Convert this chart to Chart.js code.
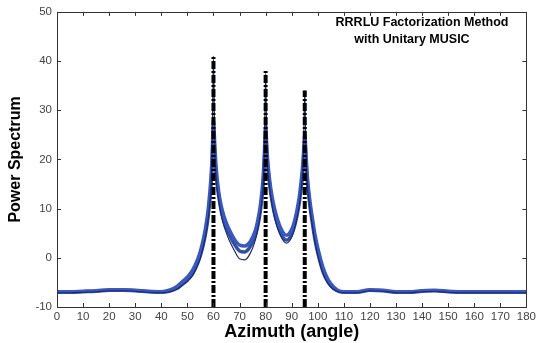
<!DOCTYPE html>
<html>
<head>
<meta charset="utf-8">
<script src="https://cdn.jsdelivr.net/npm/chart.js@4/dist/chart.umd.min.js"></script>
<style>
    html, body { margin: 0; padding: 0; background: #fff; }
    #wrap { width: 539px; height: 343px; position: relative; }
</style>
</head>
<body>
<div id="wrap"><canvas id="canvas"></canvas></div>
<script>
// azimuth sample points (degrees)
const azimuth = [
    0, 5, 10, 15, 20, 25, 30, 35, 40,
    43, 46, 48, 50, 52, 54, 55, 56, 57, 58, 59,
    59.5, 60, 60.5, 61, 62, 63, 64, 65, 66, 68, 70,
    72, 74, 76, 77, 78, 79, 79.5, 80, 80.5, 81,
    82, 83, 84, 86, 88, 90, 91, 92, 93, 94,
    94.5, 95, 95.5, 96, 97, 98, 99, 100, 102, 104,
    106, 108, 110, 115, 120, 125, 130, 135, 140, 145,
    150, 155, 160, 165, 170, 175, 180,
];

// MUSIC spectra of several trials (dB)
const trialMid = [
    -7.0, -7.0, -6.9, -6.8, -6.6, -6.6, -6.7, -6.9, -7.0,
    -6.8, -6.2, -5.4, -4.5, -3.2, -1.0, 0.5, 2.5, 5.0, 8.5, 14,
    19, 26, 21, 17, 12.5, 9.5, 7.5, 6, 4.8, 2.8, 1.4,
    1.2, 2.2, 4.5, 6.5, 9.5, 14.5, 19, 25, 21, 17.5,
    13, 10, 7.8, 4.8, 3.6, 4.8, 6.3, 8.5, 11.5, 16,
    19.5, 23.5, 19.5, 15.5, 10.5, 6.8, 3.5, 1, -2.8, -5,
    -6.2, -6.8, -7.0, -7.0, -6.6, -6.7, -7.0, -7.0, -6.8, -6.7,
    -6.9, -7.0, -7.0, -7.0, -7.0, -7.0, -7.0,
];
const trialHigh = [
    -6.9, -6.9, -6.8, -6.7, -6.5, -6.5, -6.6, -6.8, -6.9,
    -6.6, -5.8, -4.9, -3.9, -2.5, -0.2, 1.4, 3.5, 6.2, 10, 16,
    21, 28, 23, 18.5, 13.5, 10.5, 8.5, 7, 5.8, 3.8, 2.6,
    2.4, 3.2, 5.5, 7.6, 10.8, 16, 21, 27, 22, 18.5,
    14, 11, 8.8, 5.8, 4.6, 5.8, 7.3, 9.6, 12.8, 17.5,
    21, 25, 21, 16.5, 11.5, 7.8, 4.5, 2, -2, -4.5,
    -5.9, -6.7, -6.9, -6.9, -6.5, -6.6, -6.9, -6.9, -6.7, -6.6,
    -6.8, -6.9, -6.9, -6.9, -6.9, -6.9, -6.9,
];
const trialThin = [
    -7.1, -7.1, -7.0, -6.9, -6.7, -6.7, -6.8, -7.0, -7.1,
    -6.9, -6.4, -5.6, -4.8, -3.6, -1.4, 0, 2, 4.5, 8, 14,
    22, 41, 23, 16.5, 11.8, 8.6, 6.5, 5, 3.6, 1.5, -0.2,
    -0.4, 0.8, 3.5, 5.8, 9, 14.5, 21, 37.5, 22, 17,
    12.3, 9.2, 7, 4.2, 3, 4.2, 5.8, 8, 11, 16,
    21, 34, 20.5, 15, 10, 6.2, 3, 0.5, -3.2, -5.3,
    -6.4, -6.9, -7.1, -7.1, -6.7, -6.8, -7.1, -7.1, -6.9, -6.8,
    -7.0, -7.1, -7.1, -7.1, -7.1, -7.1, -7.1,
];

// true directions of arrival and the height of their markers
const doaAngles = [60, 80, 95];
const doaHeights = [41, 38, 34];

const xTicks = [0, 10, 20, 30, 40, 50, 60, 70, 80, 90, 100, 110, 120, 130, 140, 150, 160, 170, 180];
const yTicks = [-10, 0, 10, 20, 30, 40, 50];

const titleLines = ['RRRLU Factorization Method', 'with Unitary MUSIC'];

const toPoints = values => azimuth.map((a, i) => ({ x: a, y: values[i] }));

const datasets = [];
doaAngles.forEach((angle, i) => {
    datasets.push({
        data: [{ x: angle, y: -10 }, { x: angle, y: doaHeights[i] }],
        borderColor: '#000',
        borderWidth: 4,
        borderDash: [8, 2, 2, 2],
        pointRadius: 0,
        order: 0,
    });
});
datasets.push({ data: toPoints(trialThin), borderColor: '#1c2a70', borderWidth: 1.2, pointRadius: 0, cubicInterpolationMode: 'monotone', order: 1 });
datasets.push({ data: toPoints(trialHigh), borderColor: '#3a58be', borderWidth: 3.5, pointRadius: 0, cubicInterpolationMode: 'monotone', order: 2 });
datasets.push({ data: toPoints(trialMid), borderColor: '#33509f', borderWidth: 3.5, pointRadius: 0, cubicInterpolationMode: 'monotone', order: 3 });

// matlab style box with inward ticks + inset title
const boxPlugin = {
    id: 'box',
    afterDraw(chart) {
        const { ctx, chartArea: a, scales } = chart;
        ctx.save();
        ctx.strokeStyle = '#333';
        ctx.lineWidth = 1;
        ctx.beginPath();
        xTicks.forEach(t => {
            const px = Math.round(scales.x.getPixelForValue(t)) + 0.5;
            ctx.moveTo(px, a.bottom); ctx.lineTo(px, a.bottom - 4);
            ctx.moveTo(px, a.top); ctx.lineTo(px, a.top + 4);
        });
        yTicks.forEach(t => {
            const py = Math.round(scales.y.getPixelForValue(t)) + 0.5;
            ctx.moveTo(a.left, py); ctx.lineTo(a.left + 4, py);
            ctx.moveTo(a.right, py); ctx.lineTo(a.right - 4, py);
        });
        ctx.stroke();
        ctx.strokeRect(Math.round(a.left) + 0.5, Math.round(a.top) + 0.5, Math.round(a.width), Math.round(a.height));

        ctx.fillStyle = '#000';
        ctx.font = 'bold 12.5px "Liberation Sans", Arial, sans-serif';
        ctx.textAlign = 'center';
        ctx.textBaseline = 'middle';
        ctx.fillText(titleLines[0], 422, 23);
        ctx.fillText(titleLines[1], 412, 40);
        ctx.restore();
    }
};

const tickFont = { family: '"Liberation Sans", Arial, sans-serif', size: 11.5 };

new Chart(document.getElementById('canvas'), {
    type: 'line',
    data: { datasets: datasets },
    options: {
        responsive: true,
        maintainAspectRatio: false,
        animation: false,
        layout: { padding: { left: 0, top: 10, right: 10, bottom: 0 } },
        plugins: { legend: { display: false }, tooltip: { enabled: false } },
        scales: {
            x: {
                type: 'linear',
                min: 0,
                max: 180,
                afterBuildTicks: scale => { scale.ticks = xTicks.map(v => ({ value: v })); },
                afterFit: scale => { scale.height = 36; },
                grid: { display: false, drawTicks: false },
                border: { display: false },
                ticks: { color: '#444', font: tickFont, padding: 3, maxRotation: 0, autoSkip: false },
                title: {
                    display: true,
                    text: 'Azimuth (angle)',
                    color: '#000',
                    font: { family: '"Liberation Sans", Arial, sans-serif', size: 18, weight: 'bold' },
                    padding: { top: 0, bottom: 0 },
                },
            },
            y: {
                min: -10,
                max: 50,
                afterBuildTicks: scale => { scale.ticks = yTicks.map(v => ({ value: v })); },
                afterFit: scale => { scale.width = 57; },
                grid: { display: false, drawTicks: false },
                border: { display: false },
                ticks: { color: '#444', font: tickFont, padding: 5 },
                title: {
                    display: true,
                    text: 'Power Spectrum',
                    color: '#000',
                    font: { family: '"Liberation Sans", Arial, sans-serif', size: 16, weight: 'bold' },
                    padding: { top: 6, bottom: 0 },
                },
            },
        },
    },
    plugins: [boxPlugin],
});
</script>
</body>
</html>
